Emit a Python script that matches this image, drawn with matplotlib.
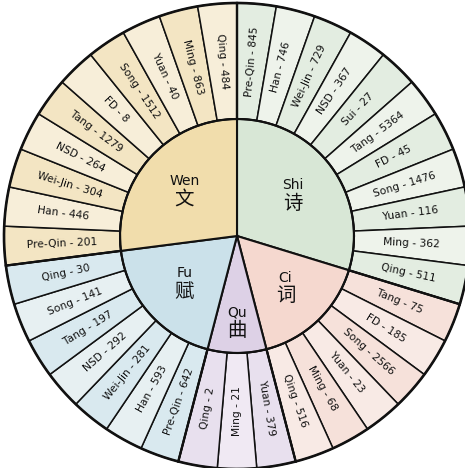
import matplotlib.pyplot as plt
import numpy as np

plt.rcParams['font.family'] = ['DejaVu Sans', 'Noto Sans CJK SC']

# inner ring: genres
genres = ['Shi', 'Ci', 'Qu', 'Fu', 'Wen']
genres_zh = ['诗', '词', '曲', '赋', '文']

# outer ring: dynasty - count, per genre (clockwise from the top)
shi_periods = ['Pre-Qin', 'Han', 'Wei-Jin', 'NSD', 'Sui', 'Tang', 'FD', 'Song', 'Yuan', 'Ming', 'Qing']
shi_counts = [845, 746, 729, 367, 27, 5364, 45, 1476, 116, 362, 511]
ci_periods = ['Tang', 'FD', 'Song', 'Yuan', 'Ming', 'Qing']
ci_counts = [75, 185, 2566, 23, 68, 516]
qu_periods = ['Yuan', 'Ming', 'Qing']
qu_counts = [379, 21, 2]
fu_periods = ['Pre-Qin', 'Han', 'Wei-Jin', 'NSD', 'Tang', 'Song', 'Qing']
fu_counts = [642, 593, 281, 292, 197, 141, 30]
wen_periods = ['Pre-Qin', 'Han', 'Wei-Jin', 'NSD', 'Tang', 'FD', 'Song', 'Yuan', 'Ming', 'Qing']
wen_counts = [201, 446, 304, 264, 1279, 8, 1512, 40, 863, 484]

periods = [shi_periods, ci_periods, qu_periods, fu_periods, wen_periods]
counts = [shi_counts, ci_counts, qu_counts, fu_counts, wen_counts]

inner_colors = ['#d8e7d6', '#f5d8cf', '#ddd1e6', '#cbe1ea', '#f1ddac']
outer_a = ['#e3ede1', '#f6e1da', '#e8e0ee', '#d9e9ef', '#f3e5c3']
outer_b = ['#eef3eb', '#f8eae5', '#f0e9f3', '#e7f0f2', '#f7eed9']

R = 233
R_in = 117

fig = plt.figure(figsize=(4.65, 4.68), dpi=100)
ax = fig.add_axes([0, 0, 1, 1])

# every sub-period gets the same slice, so genres are sized by number of periods
sizes_in = [len(p) for p in periods]
labels_out = []
colors_out = []
for i in range(len(genres)):
    for j, (p, c) in enumerate(zip(periods[i], counts[i])):
        labels_out.append(f'{p} - {c}')
        colors_out.append(outer_a[i] if j % 2 == 0 else outer_b[i])

wedges_out, _ = ax.pie(np.ones(len(labels_out)), radius=R, startangle=90, counterclock=False,
                       colors=colors_out,
                       wedgeprops=dict(width=R - R_in, edgecolor='#111111', linewidth=1.1))
wedges_in, _ = ax.pie(sizes_in, radius=R_in, startangle=90, counterclock=False,
                      colors=inner_colors,
                      wedgeprops=dict(edgecolor='#111111', linewidth=1.5))

# heavier lines between genres in the outer ring and round the edge
for w in wedges_in:
    for th in (w.theta1, w.theta2):
        t = np.deg2rad(th)
        ax.plot([R_in * np.cos(t), R * np.cos(t)], [R_in * np.sin(t), R * np.sin(t)],
                color='#111111', lw=1.6)
tt = np.linspace(0, 2 * np.pi, 400)
ax.plot(R * np.cos(tt), R * np.sin(tt), color='#111111', lw=1.9)
ax.plot(R_in * np.cos(tt), R_in * np.sin(tt), color='#111111', lw=1.5)

# outer labels, radial
r_mid = (R + R_in) / 2
for w, lab in zip(wedges_out, labels_out):
    ang = (w.theta1 + w.theta2) / 2
    t = np.deg2rad(ang)
    rot = ang if np.cos(t) >= 0 else ang + 180
    ax.text(r_mid * np.cos(t), r_mid * np.sin(t), lab, rotation=rot,
            rotation_mode='anchor', ha='center', va='center', fontsize=7.7, color='#111111')

# inner labels
for w, g, zh in zip(wedges_in, genres, genres_zh):
    ang = (w.theta1 + w.theta2) / 2
    t = np.deg2rad(ang)
    rr = 85 if g == 'Qu' else 70
    x, y = rr * np.cos(t), rr * np.sin(t)
    ax.text(x, y + 9, g, ha='center', va='center', fontsize=10, color='#111111')
    ax.text(x, y - 9, zh, ha='center', va='center', fontsize=14, color='#111111',
            family=['Noto Sans CJK SC'])

ax.set_xlim(-237, 465 - 237)
ax.set_ylim(-(468 - 236), 236)
ax.set_aspect('auto')
ax.axis('off')

fig.savefig('out.png', dpi=100, facecolor='white')
